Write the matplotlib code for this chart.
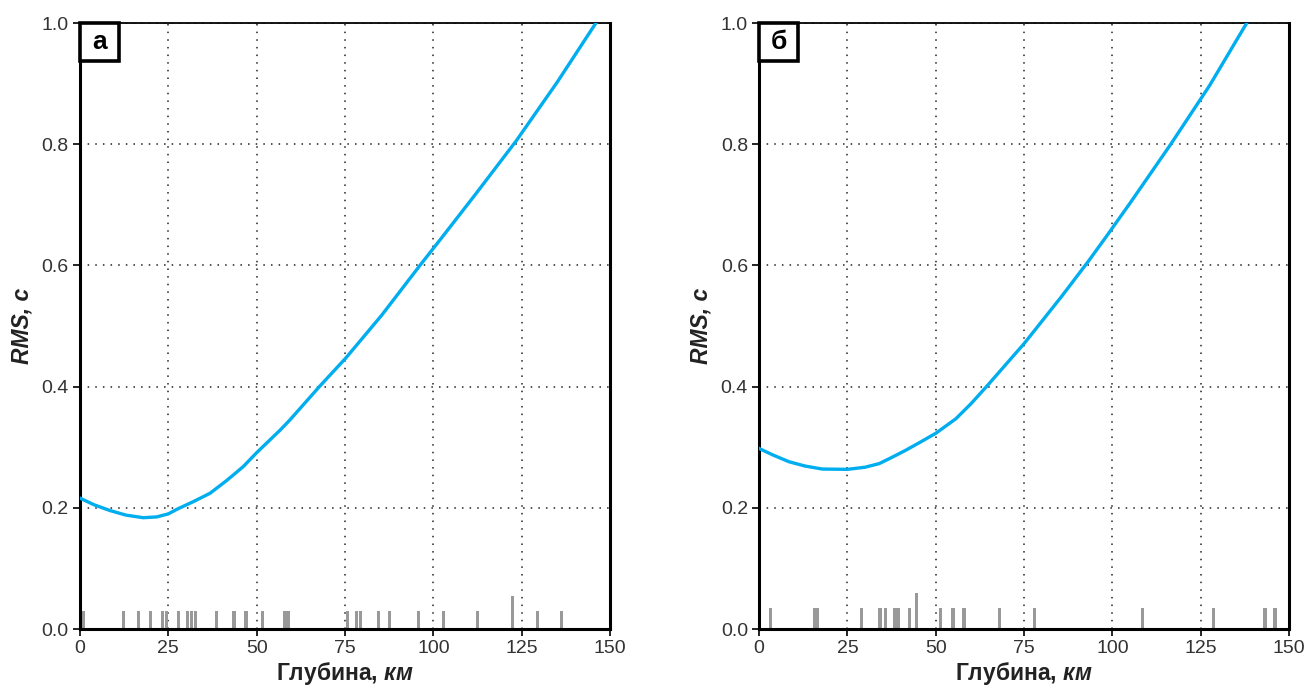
import matplotlib
matplotlib.use("Agg")
import matplotlib.pyplot as plt
import matplotlib.patches as patches

plt.rcParams['font.family'] = ['Liberation Sans', 'DejaVu Sans']
plt.rcParams['mathtext.fontset'] = 'custom'
plt.rcParams['mathtext.bfit'] = 'Liberation Sans:bold:italic'
plt.rcParams['mathtext.rm'] = 'Liberation Sans'

# panel a: RMS curve
depth_a = [0, 4, 8.5, 13, 17.9, 21.7, 25, 27.4, 32, 36.8, 41.5, 46.2, 50,
           56.6, 59.4, 67.9, 75.2, 85.4, 96.2, 102, 112, 123.5, 135, 146]
rms_a = [0.216, 0.205, 0.1955, 0.188, 0.1837, 0.185, 0.19, 0.1975, 0.21, 0.224,
         0.245, 0.268, 0.291, 0.328, 0.345, 0.401, 0.447, 0.518, 0.6, 0.643,
         0.718, 0.806, 0.902, 1.0]
# panel a: event depths
events_a = [1, 12.3, 16.5, 20, 23.3, 24.5, 27.8, 30.5, 31.5, 32.7, 38.7, 43.6,
            47, 51.7, 58, 59, 75.8, 78.3, 79.3, 84.5, 87.5, 95.8, 102.9, 112.4,
            122.5, 129.5, 136.3]
heights_a = [0.03] * len(events_a)
heights_a[events_a.index(122.5)] = 0.055

# panel b
depth_b = [0, 4, 8.5, 13, 17.9, 25, 30, 34, 37.5, 41.5, 45.5, 50, 55.7, 60,
           64.5, 75, 85.5, 93.2, 98.3, 105, 116.5, 127.5, 138]
rms_b = [0.298, 0.287, 0.276, 0.269, 0.264, 0.2635, 0.267, 0.273, 0.283, 0.295,
         0.308, 0.323, 0.347, 0.372, 0.401, 0.471, 0.548, 0.607, 0.648, 0.703,
         0.8, 0.897, 1.0]
events_b = [3.3, 15.6, 16.4, 29.1, 34.2, 35.8, 38.3, 39.3, 42.5, 44.6, 51.4,
            54.9, 58, 68.1, 77.9, 108.5, 128.6, 143.2, 146]
heights_b = [0.034] * len(events_b)
heights_b[events_b.index(44.6)] = 0.06

xticks = [0, 25, 50, 75, 100, 125, 150]
yticks = [0.0, 0.2, 0.4, 0.6, 0.8, 1.0]

fig = plt.figure(figsize=(13.11, 6.87), dpi=100)
ax_a = fig.add_axes([0.061, 0.0844, 0.4043, 0.882])
ax_b = fig.add_axes([0.579, 0.0844, 0.4043, 0.882])

for ax, d, r, ev, h, letter in [(ax_a, depth_a, rms_a, events_a, heights_a, 'а'),
                                (ax_b, depth_b, rms_b, events_b, heights_b, 'б')]:
    ax.bar(ev, h, width=0.9, color='#999999', zorder=2)
    ax.plot(d, r, color='#00aeef', lw=2.4, zorder=3)
    ax.set_xlim(0, 150)
    ax.set_ylim(0, 1.0)
    ax.set_xticks(xticks)
    ax.set_yticks(yticks)
    ax.set_yticklabels(['%.1f' % v for v in yticks])
    ax.grid(True, color='#222222', linestyle=(0, (1, 4)), lw=1.1)
    ax.set_axisbelow(True)
    for s in ['left', 'bottom', 'right']:
        ax.spines[s].set_linewidth(2.2)
    ax.spines['top'].set_linewidth(1.3)
    ax.tick_params(direction='out', length=5, width=1.2, labelsize=14,
                   labelcolor='#333333', pad=3)
    ax.set_xlabel(r'Глубина, $\mathbfit{км}$', fontsize=16.5, fontweight='bold',
                  color='#222222', labelpad=2)
    ax.set_ylabel('RMS, c', fontsize=16.5, fontweight='bold', style='italic',
                  color='#222222', labelpad=6)
    ax.add_patch(patches.Rectangle((0, 1 - 0.0627), 0.0736, 0.0627,
                                   transform=ax.transAxes, fill=True,
                                   facecolor='white', edgecolor='black',
                                   lw=2.6, zorder=5, clip_on=False))
    ax.text(0.0368, 1 - 0.0313, letter, transform=ax.transAxes, ha='center',
            va='center', fontsize=19, fontweight='bold', zorder=6)

fig.savefig('out.png', dpi=100)
